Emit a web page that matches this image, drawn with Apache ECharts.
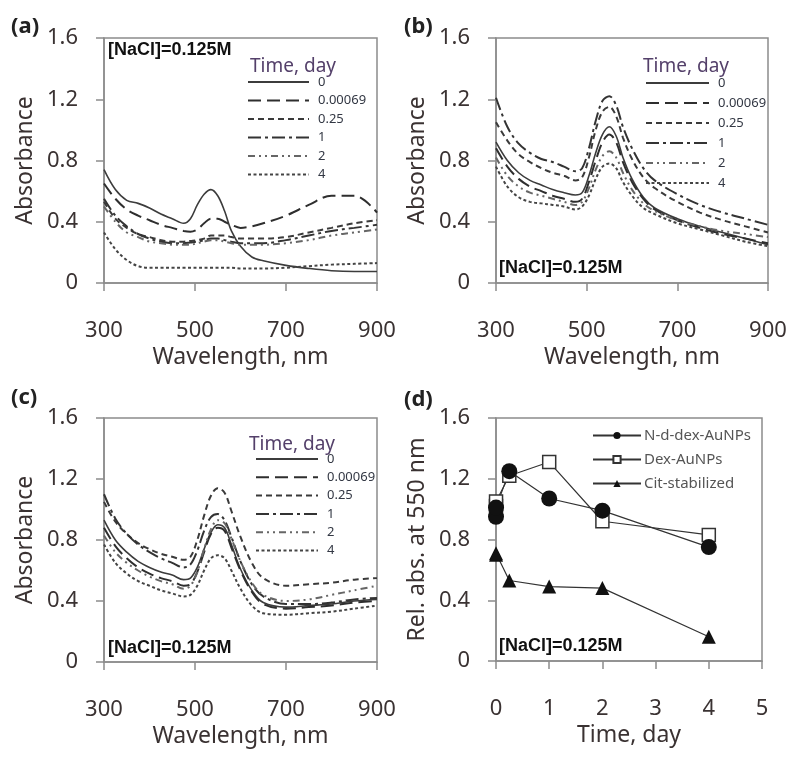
<!DOCTYPE html>
<html>
<head>
<meta charset="utf-8">
<script src="https://cdn.jsdelivr.net/npm/echarts@6/dist/echarts.min.js"></script>
<style>html,body{margin:0;padding:0;background:#fff}#c{width:792px;height:758px}</style>
</head>
<body>
<div id="c"></div>
<script>
// ---------- data ----------
const wavelengths = [300,325,350,375,400,425,450,475,490,505,520,535,550,565,580,600,625,650,700,750,800,850,900];
const timeLabels = ['0','0.00069','0.25','1','2','4'];
const xTicksNm = [300,500,700,900];
const yTicks = [0,0.4,0.8,1.2,1.6];

// panel (a)
const a_t0     = [.74,.61,.54,.52,.49,.45,.42,.39,.42,.51,.58,.61,.57,.47,.34,.24,.17,.145,.115,.095,.08,.075,.075];
const a_t00069 = [.65,.55,.48,.44,.41,.38,.36,.34,.335,.35,.39,.42,.42,.40,.38,.36,.37,.39,.44,.51,.57,.57,.46];
const a_t025   = [.53,.42,.36,.32,.30,.28,.27,.27,.275,.28,.29,.31,.31,.31,.30,.29,.29,.29,.30,.33,.36,.39,.41];
const a_t1     = [.55,.44,.37,.32,.29,.27,.26,.26,.265,.27,.28,.29,.29,.28,.27,.26,.26,.26,.28,.31,.34,.36,.38];
const a_t2     = [.50,.40,.33,.30,.27,.26,.25,.25,.25,.26,.27,.28,.28,.27,.26,.25,.25,.25,.26,.28,.31,.33,.35];
const a_t4     = [.33,.22,.15,.11,.10,.10,.10,.10,.10,.10,.10,.10,.10,.10,.10,.095,.095,.095,.10,.11,.12,.125,.13];

// panel (b)
const b_t0     = [.92,.80,.72,.67,.64,.61,.59,.575,.59,.70,.85,.97,1.02,.96,.82,.68,.56,.49,.42,.37,.33,.29,.25];
const b_t00069 = [.88,.76,.68,.63,.60,.57,.55,.53,.55,.66,.80,.92,.97,.92,.79,.66,.55,.48,.41,.36,.32,.29,.26];
const b_t025   = [1.05,.93,.84,.79,.75,.72,.70,.67,.69,.82,1.00,1.12,1.15,1.09,.95,.81,.69,.62,.53,.46,.41,.37,.33];
const b_t1     = [1.21,1.02,.91,.85,.81,.79,.76,.73,.75,.88,1.06,1.19,1.22,1.16,1.02,.88,.75,.67,.58,.51,.46,.42,.38];
const b_t2     = [.82,.70,.63,.59,.57,.55,.53,.51,.53,.62,.74,.83,.86,.82,.72,.61,.52,.47,.41,.37,.34,.32,.30];
const b_t4     = [.76,.63,.56,.53,.52,.51,.50,.48,.50,.57,.68,.76,.78,.75,.66,.57,.49,.45,.39,.35,.31,.27,.24];

// panel (c)
const c_t0     = [.93,.80,.72,.66,.62,.59,.57,.54,.55,.62,.74,.85,.90,.88,.77,.61,.47,.39,.36,.37,.38,.40,.41];
const c_t00069 = [.88,.76,.68,.62,.58,.55,.53,.50,.51,.59,.72,.84,.88,.86,.75,.60,.46,.38,.35,.36,.37,.39,.40];
const c_t025   = [1.05,.92,.84,.78,.74,.71,.69,.67,.69,.80,.96,1.09,1.14,1.11,.99,.82,.65,.55,.50,.51,.52,.54,.55];
const c_t1     = [1.10,.94,.84,.77,.72,.68,.65,.62,.64,.73,.86,.95,.97,.93,.82,.66,.51,.43,.38,.38,.39,.41,.42];
const c_t2     = [.83,.72,.65,.60,.56,.53,.51,.48,.50,.59,.74,.87,.93,.91,.81,.66,.52,.44,.40,.41,.44,.47,.50];
const c_t4     = [.77,.65,.58,.53,.50,.47,.45,.43,.44,.50,.60,.68,.70,.68,.60,.48,.37,.32,.31,.32,.33,.35,.37];

// panel (d)
const days = [0, 0.00069, 0.25, 1, 2, 4];
const xTicksDay = [0,1,2,3,4,5];
const dNames = ['N-d-dex-AuNPs','Dex-AuNPs','Cit-stabilized'];
const d_ndex = [0.95, 1.01, 1.25, 1.07, 0.99, 0.75];
const d_dex  = [1.02, 1.05, 1.22, 1.31, 0.92, 0.83];
const d_cit  = [0.71, 0.70, 0.53, 0.49, 0.48, 0.16];

// ---------- styles ----------
const FONT = 'Noto Sans';
const AX = '#8c8c8c';
const TXT = '#3a3232';
const lineStyles = [
  {type:'solid', color:'#3c3c3c', width:1.6},
  {type:[13,6], color:'#2e2e2e', width:2},
  {type:[6,4], color:'#3a3a3a', width:2},
  {type:[13,4,3,4], color:'#333', width:2},
  {type:[7,4,2,4,2,4], color:'#666', width:2},
  {type:[3,2.5], color:'#444', width:2}
];

const grids = [
  {left:104, top:38, width:273, height:245},
  {left:496, top:38, width:272, height:245},
  {left:104, top:418, width:273, height:244},
  {left:496, top:418, width:266, height:243}
];

function xAxisFor(i, min, max, interval, name) {
  return {
    gridIndex:i, type:'value', min:min, max:max, interval:interval,
    axisLine:{show:true, onZero:false, lineStyle:{color:AX, width:1.5}},
    axisTick:{show:true, inside:false, length:8, lineStyle:{color:AX, width:1.5}},
    splitLine:{show:false},
    axisLabel:{margin:37, fontSize:22, color:TXT, fontFamily:FONT},
    name:name, nameLocation:'middle', nameGap:63,
    nameTextStyle:{fontSize:23, color:TXT, fontFamily:FONT}
  };
}
function yAxisFor(i, name) {
  return {
    gridIndex:i, type:'value', min:yTicks[0], max:yTicks[yTicks.length-1], interval:0.4,
    axisLine:{show:true, onZero:false, lineStyle:{color:AX, width:1.5}},
    axisTick:{show:true, inside:false, length:8, lineStyle:{color:AX, width:1.5}},
    splitLine:{show:false},
    axisLabel:{margin:26, fontSize:22, color:TXT, fontFamily:FONT,
      formatter: v => (Math.round(v*10)/10).toString()},
    name:name, nameLocation:'middle', nameGap:67,
    nameTextStyle:{fontSize:23, color:TXT, fontFamily:FONT}
  };
}

const panelSets = [
  ['a', [a_t0,a_t00069,a_t025,a_t1,a_t2,a_t4]],
  ['b', [b_t0,b_t00069,b_t025,b_t1,b_t2,b_t4]],
  ['c', [c_t0,c_t00069,c_t025,c_t1,c_t2,c_t4]]
];

const series = [];
panelSets.forEach(([p, arrs], gi) => {
  arrs.forEach((vals, k) => {
    series.push({
      name: p + ':' + timeLabels[k], type:'line', xAxisIndex:gi, yAxisIndex:gi,
      data: wavelengths.map((w, j) => [w, vals[j]]),
      symbol:'none', smooth:0.35, lineStyle:lineStyles[k], itemStyle:{color:lineStyles[k].color},
      silent:true, animation:false
    });
  });
});
// panel d (Dex first so the filled circles sit on top)
series.push({
  name:'d:'+dNames[1], type:'line', xAxisIndex:3, yAxisIndex:3,
  data: days.map((t,i)=>[t, d_dex[i]]),
  symbol:'rect', symbolSize:13,
  lineStyle:{color:'#333', width:1.2},
  itemStyle:{color:'#fff', borderColor:'#333', borderWidth:1.5}, animation:false
});
series.push({
  name:'d:'+dNames[0], type:'line', xAxisIndex:3, yAxisIndex:3,
  data: days.map((t,i)=>[t, d_ndex[i]]),
  symbol:'circle', symbolSize:16,
  lineStyle:{color:'#333', width:1.2},
  itemStyle:{color:'#111'}, animation:false
});
series.push({
  name:'d:'+dNames[2], type:'line', xAxisIndex:3, yAxisIndex:3,
  data: days.map((t,i)=>[t, d_cit[i]]),
  symbol:'triangle', symbolSize:14,
  lineStyle:{color:'#333', width:1.2},
  itemStyle:{color:'#111'}, animation:false
});

function timeLegend(p, left, top, itemWidth, gap) {
  return {
    data: timeLabels.map(t => p + ':' + t),
    formatter: n => n.split(':')[1],
    orient:'vertical', left:left, top:top, itemWidth:itemWidth, itemHeight:10, itemGap:gap,
    selectedMode:false, padding:0,
    itemStyle:{opacity:0, borderWidth:0},
    textStyle:{fontSize:13, color:'#333844', fontFamily:FONT, lineHeight:14, padding:[0,0,0,4]}
  };
}

const legends = [
  timeLegend('a', 247, 75, 61, 4.5),
  timeLegend('b', 645, 76, 63, 6),
  timeLegend('c', 255, 452, 62, 4.3),
  {
    data: dNames.map(n => 'd:' + n),
    formatter: n => n.split(':')[1],
    orient:'vertical', left:592, top:428, itemWidth:48, itemHeight:9, itemGap:9,
    selectedMode:false, padding:0,
    textStyle:{fontSize:15, color:'#555', fontFamily:FONT, lineHeight:15, padding:[0,0,0,-2]}
  }
];

function txt(x, y, text, size, weight, color, family) {
  return {type:'text', x:x, y:y, silent:true,
    style:{text:text, fontSize:size, fontWeight:weight, fill:color, fontFamily:family,
      align:'left', verticalAlign:'middle'}};
}
const graphics = [
  txt(11, 27, '(a)', 22, 'bold', '#222', FONT),
  txt(404, 27, '(b)', 22, 'bold', '#222', FONT),
  txt(11, 398, '(c)', 22, 'bold', '#222', FONT),
  txt(404, 400, '(d)', 22, 'bold', '#222', FONT),
  txt(108, 50, '[NaCl]=0.125M', 18, 'bold', '#111', 'Liberation Sans'),
  txt(499, 268, '[NaCl]=0.125M', 18, 'bold', '#111', 'Liberation Sans'),
  txt(108, 648, '[NaCl]=0.125M', 18, 'bold', '#111', 'Liberation Sans'),
  txt(499, 646, '[NaCl]=0.125M', 18, 'bold', '#111', 'Liberation Sans'),
  txt(250, 67, 'Time, day', 19, 'normal', '#54406a', FONT),
  txt(643, 67, 'Time, day', 19, 'normal', '#54406a', FONT),
  txt(249, 445, 'Time, day', 19, 'normal', '#54406a', FONT)
];

const chart = echarts.init(document.getElementById('c'), null, {renderer:'canvas'});
chart.setOption({
  animation:false,
  backgroundColor:'#fff',
  grid: grids.map(g => Object.assign({show:true, borderColor:AX, borderWidth:1.5, backgroundColor:'transparent', containLabel:false}, g)),
  xAxis: [
    xAxisFor(0, xTicksNm[0], xTicksNm[3], 200, 'Wavelength, nm'),
    xAxisFor(1, xTicksNm[0], xTicksNm[3], 200, 'Wavelength, nm'),
    xAxisFor(2, xTicksNm[0], xTicksNm[3], 200, 'Wavelength, nm'),
    xAxisFor(3, xTicksDay[0], xTicksDay[5], 1, 'Time, day')
  ],
  yAxis: [
    yAxisFor(0, 'Absorbance'),
    yAxisFor(1, 'Absorbance'),
    yAxisFor(2, 'Absorbance'),
    yAxisFor(3, 'Rel. abs. at 550 nm')
  ],
  legend: legends,
  series: series,
  graphic: graphics
});
</script>
</body>
</html>
